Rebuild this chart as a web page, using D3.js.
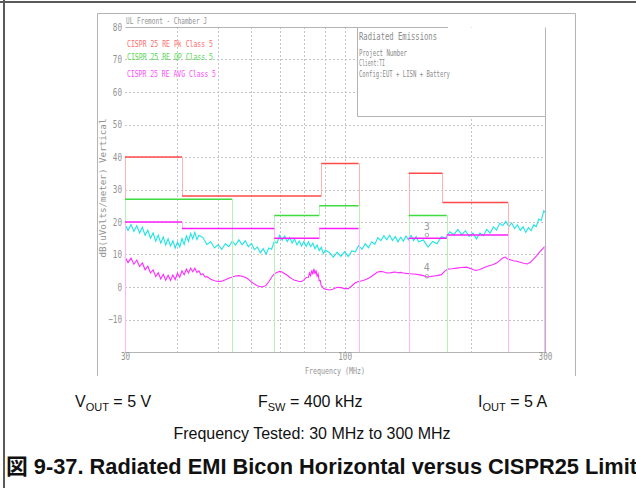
<!DOCTYPE html>
<html>
<head>
<meta charset="utf-8">
<script src="https://cdn.jsdelivr.net/npm/d3@7"></script>
<style>
  html, body { margin: 0; padding: 0; background: #fff; }
  svg { display: block; }
</style>
</head>
<body>
<svg id="chart" width="636" height="488"></svg>
<script>
// CISPR 25 Class 5 limit bands: [start MHz, end MHz, level dB(uV/m)]
const peakLimit = [[30, 41, 40], [41, 88, 28], [88, 108, 38], [142, 171, 35], [171, 245, 26]];
const qpLimit   = [[30, 54, 27], [68, 87, 22], [87, 108, 25], [142, 175, 22]];
const avgLimit  = [[30, 41, 20], [41, 68, 18], [68, 87, 15], [87, 108, 18], [142, 175, 15], [175, 245, 16]];

// Peak detector sweep: [MHz, dB(uV/m)]
const peakScan = [
  [30,19.3],[30.5,17.4],[31,19.2],[31.5,17.1],[32,18.9],[32.5,16.6],[33,18.4],[33.5,15.9],[34,17.5],[34.5,15.0],
  [35,16.6],[35.5,14.1],[36,16.0],[36.5,13.5],[37,15.4],[37.5,12.9],[38,14.8],[38.5,12.6],[39,14.2],[39.5,12.0],
  [40,13.8],[40.5,12.3],[41,14.9],[41.5,13.1],[42,15.7],[42.5,14.0],[43,16.5],[43.5,14.8],[44,16.8],[44.5,14.6],[45,15.9],
  [46,15.2],[47,13.1],[48,13.9],[49,12.0],[50,13.0],[51,11.6],[52,13.3],[53,12.4],[54,14.1],[55,12.9],
  [56,14.5],[57,13.0],[58,14.2],[59,12.4],[60,13.4],[61,11.5],[62,12.3],[63,10.5],[64,11.8],[65,10.1],
  [66,12.0],[67,11.6],[68,14.0],[69,13.5],[70,15.9],[71,14.4],[72,15.7],[73,14.0],[74,15.2],[75,13.5],
  [76,14.8],[77,13.0],[78,14.1],[79,12.6],[80,14.0],[81,12.5],[82,13.9],[83,12.4],[84,13.5],[85,11.8],
  [86,12.9],[87,11.2],[88,12.2],[89,10.3],[90,11.3],
  [92,10.6],[94,9.2],[96,10.7],[98,9.4],[100,10.9],[102,9.4],[104,11.1],[106,10.8],[108,12.7],[110,11.6],
  [112,13.3],[114,12.1],[116,13.9],[118,13.1],[120,15.2],[122,14.3],[124,15.8],[126,14.5],[128,15.9],[130,14.3],
  [132,15.5],[134,13.9],[136,15.3],[138,14.1],[140,15.7],[142,14.5],[144,15.9],[146,14.3],[148,15.5],[150,13.9],
  [154,14.5],[158,12.3],[162,14.0],[166,13.3],[170,15.5],[174,15.0],[178,17.0],[182,16.1],[186,17.7],[190,16.1],
  [194,17.3],[198,15.6],[202,16.6],[206,14.8],[210,16.6],[214,15.8],[218,17.7],[222,16.6],[226,18.5],[230,17.5],
  [234,19.6],[238,18.9],[242,20.2],[246,18.6],[250,19.7],[254,18.0],[258,19.1],[262,17.4],[266,18.5],[270,16.8],
  [274,18.3],[278,17.3],[282,19.1],[286,18.6],[290,20.9],[294,20.5],[298,23.4],[300,23.0]
];

// Average detector sweep: [MHz, dB(uV/m)]
const avgScan = [
  [30,9.2],[30.5,7.5],[31,8.9],[31.5,7.0],[32,8.3],[32.5,6.3],[33,7.4],[33.5,5.3],[34,6.4],[34.5,4.3],
  [35,5.3],[35.5,3.2],[36,4.4],[36.5,2.5],[37,3.9],[37.5,2.1],[38,3.6],[38.5,2.0],[39,3.7],[39.5,2.3],
  [40,4.2],[40.5,3.0],[41,5.0],[41.5,3.8],[42,5.5],[42.5,4.3],[43,5.8],[43.5,4.7],[44,5.8],[44.5,4.5],
  [45,5.0],[45.5,3.8],[46,4.1],[46.5,3.1],[47,3.2],
  [48,2.4],[49,1.9],[50,1.7],[51,1.8],[52,2.2],[53,2.7],[54,3.1],[55,3.4],[56,3.5],[57,3.3],
  [58,3.0],[59,2.4],[60,1.5],[61,0.9],[62,0.4],[63,0.1],[64,0.1],[65,0.5],[66,1.6],[67,3.0],
  [68,4.0],[69,4.5],[70,4.8],[71,4.6],[72,4.1],[73,3.6],[74,3.0],[75,2.5],[76,2.1],[77,1.9],
  [78,1.7],[79,1.7],[80,2.2],[81,2.9],
  [82,3.0],[82.5,4.3],[83,3.5],[83.5,5.1],[84,3.9],[84.5,5.6],[85,4.0],[85.5,5.1],[86,3.3],[86.5,4.0],
  [87,1.9],[87.5,2.0],[88,0.3],[88.5,0.2],[89,-0.4],
  [90,-0.7],[92,-0.9],[94,-0.6],[96,-0.1],[98,-0.2],[100,-0.5],[102,-0.5],[104,0.3],[106,1.3],[108,1.7],
  [110,1.9],[112,2.2],[114,2.7],[116,3.3],[118,4.0],[120,4.6],[122,4.8],[124,4.6],[126,4.3],[128,4.3],
  [130,4.5],[132,4.6],[134,4.4],[136,4.5],[138,4.3],[140,4.2],[143,4.1],[146,4.0],[150,3.8],[154,3.5],
  [157,3.1],[160,3.2],[163,3.4],[166,3.5],[170,3.8],[173,4.8],[176,5.5],[180,5.6],[185,5.8],[190,6.0],
  [195,6.1],[200,5.6],[205,5.1],[210,5.4],[215,6.0],[218,6.3],[222,6.6],[226,6.9],[230,7.4],[234,8.1],
  [238,8.9],[241,9.2],[244,8.7],[248,8.4],[252,8.1],[257,7.9],[262,7.6],[267,7.3],[272,7.1],[277,7.6],
  [281,8.4],[286,9.5],[291,10.7],[296,11.7],[300,12.5]
];

// Marker readouts: [label, MHz, dB]
const markers = [["3", 157, 16.0], ["4", 157, 3.3]];

const yTicks = [80, 70, 60, 50, 40, 30, 20, 10, 0, -10];
const yGridLevels = [70, 60, 50, 40, 30, 20, 10, 0, -10];
const xTicks = [30, 100, 300];
const xGridFreqs = [40, 50, 60, 70, 80, 90, 100, 200];

const legendLabels = ["CISPR 25 RE Pk Class 5", "CISPR 25 RE QP Class 5", "CISPR 25 RE AVG Class 5"];
const infoTitle = "Radiated Emissions";
const infoLines = ["Project Number", "Client:TI", "Config:EUT + LISN + Battery"];

const svg = d3.select("#chart");
const chartFont = "'DejaVu Sans Mono', monospace";
const textGray = "#939393";
const frameGray = "#b4b4b4";

const x = d3.scaleLog().domain([30, 300]).range([125, 545]);
const y = d3.scaleLinear().domain([-20, 80]).range([352, 27]);
const yBottom = y.domain()[0];

const colors = {
  pk:  { strong: "#ff4a4a", light: "#ffb4b4", text: "#ff6b6b" },
  qp:  { strong: "#3fdc3f", light: "#b6f2b6", text: "#52d852" },
  avg: { strong: "#ff1cff", light: "#ffb8ff", text: "#ff4cff" }
};

// page border
svg.append("line").attr("x1", 0).attr("x2", 636).attr("y1", 2).attr("y2", 2)
  .attr("stroke", "#5a5a5a").attr("stroke-width", 2);
svg.append("line").attr("x1", 4).attr("x2", 4).attr("y1", 0).attr("y2", 488)
  .attr("stroke", "#5a5a5a").attr("stroke-width", 2);

// dashed grid
const grid = svg.append("g").attr("stroke", "#c4c4c4").attr("stroke-width", 1)
  .attr("stroke-dasharray", "2,2");
grid.selectAll("line.h").data(yGridLevels).join("line").attr("class", "h")
  .attr("x1", x.range()[0]).attr("x2", x.range()[1])
  .attr("y1", d => Math.round(y(d)) + 0.5).attr("y2", d => Math.round(y(d)) + 0.5);
grid.selectAll("line.v").data(xGridFreqs).join("line").attr("class", "v")
  .attr("x1", d => Math.round(x(d)) + 0.5).attr("x2", d => Math.round(x(d)) + 0.5)
  .attr("y1", y(80)).attr("y2", y(yBottom));

// measured traces
const trace = d3.line().x(d => x(d[0])).y(d => y(d[1]));
svg.append("path").datum(peakScan).attr("d", trace)
  .attr("fill", "none").attr("stroke", "#1fe4e4").attr("stroke-width", 1.1);
svg.append("path").datum(avgScan).attr("d", trace)
  .attr("fill", "none").attr("stroke", "#ff2cff").attr("stroke-width", 1.1);
// end of the average sweep dropping to the axis
const lastAvg = avgScan[avgScan.length - 1];
svg.append("line")
  .attr("x1", Math.round(x(lastAvg[0])) - 0.5).attr("x2", Math.round(x(lastAvg[0])) - 0.5)
  .attr("y1", y(lastAvg[1])).attr("y2", y(yBottom))
  .attr("stroke", colors.avg.light).attr("stroke-width", 1);

// limit lines: thin light risers, heavier level segments
function drawLimit(bands, c) {
  const g = svg.append("g");
  const risers = [];
  bands.forEach((b, i) => {
    const prev = bands[i - 1], next = bands[i + 1];
    const joinPrev = prev && prev[1] === b[0];
    const joinNext = next && next[0] === b[1];
    risers.push([b[0], joinPrev ? prev[2] : yBottom, b[2]]);
    if (!joinNext) risers.push([b[1], b[2], yBottom]);
  });
  g.selectAll("line.riser").data(risers).join("line").attr("class", "riser")
    .attr("x1", d => Math.round(x(d[0])) + 0.5).attr("x2", d => Math.round(x(d[0])) + 0.5)
    .attr("y1", d => y(d[1])).attr("y2", d => y(d[2]))
    .attr("stroke", c.light).attr("stroke-width", 1);
  g.selectAll("line.level").data(bands).join("line").attr("class", "level")
    .attr("x1", d => x(d[0])).attr("x2", d => x(d[1]))
    .attr("y1", d => y(d[2])).attr("y2", d => y(d[2]))
    .attr("stroke", c.strong).attr("stroke-width", 1.7);
}
drawLimit(peakLimit, colors.pk);
drawLimit(qpLimit, colors.qp);
drawLimit(avgLimit, colors.avg);

// marker readouts
const mk = svg.append("g");
markers.forEach(m => {
  const mx = x(m[1]), my = y(m[2]);
  mk.append("circle").attr("cx", mx).attr("cy", my).attr("r", 1.8)
    .attr("fill", "none").attr("stroke", "#9a9a9a").attr("stroke-width", 0.8);
  mk.append("text").attr("x", mx).attr("y", my - 5).attr("text-anchor", "middle")
    .attr("font-family", chartFont).attr("font-size", 10).attr("fill", "#9a9a9a")
    .text(m[0]);
});

// info box (covers the grid)
svg.append("rect").attr("x", 357.5).attr("y", 27.5).attr("width", 545 - 357.5).attr("height", 116 - 27.5)
  .attr("fill", "#fff");
svg.append("polyline")
  .attr("points", "357.5,27.5 357.5,116.5 545.5,116.5")
  .attr("fill", "none").attr("stroke", frameGray).attr("stroke-width", 1);

// plot border
const pb = svg.append("g").attr("stroke", frameGray).attr("stroke-width", 1).attr("fill", "none");
pb.append("line").attr("x1", 125.5).attr("x2", 448).attr("y1", 27.5).attr("y2", 27.5);
pb.append("line").attr("x1", 545.5).attr("x2", 545.5).attr("y1", 27.5).attr("y2", 352.5);
pb.append("line").attr("x1", 125).attr("x2", 546).attr("y1", 352.5).attr("y2", 352.5);

// outer chart frame
svg.append("polyline").attr("points", "97.5,376 97.5,13.5 575.5,13.5 575.5,376")
  .attr("fill", "none").attr("stroke", frameGray).attr("stroke-width", 1);

// axes
const yAxis = svg.append("g").attr("transform", "translate(125,0)")
  .call(d3.axisLeft(y).tickValues(yTicks).tickSize(0).tickPadding(3));
yAxis.select(".domain").remove();
yAxis.selectAll("text").attr("font-family", chartFont).attr("font-size", 10)
  .attr("fill", textGray)
  .attr("textLength", d => String(d).length * 4.6).attr("lengthAdjust", "spacingAndGlyphs");

const xAxis = svg.append("g").attr("transform", "translate(0,352)")
  .call(d3.axisBottom(x).tickValues(xTicks).tickFormat(d3.format("d")).tickSize(0).tickPadding(1));
xAxis.select(".domain").remove();
xAxis.selectAll("text").attr("font-family", chartFont).attr("font-size", 10)
  .attr("fill", textGray)
  .attr("textLength", d => String(d).length * 4.6).attr("lengthAdjust", "spacingAndGlyphs");

function smallText(str, tx, ty, len, color, size, anchor) {
  return svg.append("text").attr("x", tx).attr("y", ty)
    .attr("font-family", chartFont).attr("font-size", size || 9.5)
    .attr("fill", color || textGray).attr("text-anchor", anchor || "start")
    .attr("textLength", len).attr("lengthAdjust", "spacingAndGlyphs")
    .text(str);
}

smallText("Frequency (MHz)", 335, 374, 60, textGray, 9.5, "middle");
svg.append("text").attr("transform", "translate(106,188) rotate(-90)")
  .attr("text-anchor", "middle").attr("font-family", chartFont).attr("font-size", 9.5)
  .attr("fill", textGray).attr("textLength", 139).attr("lengthAdjust", "spacingAndGlyphs")
  .text("dB(uVolts/meter) Vertical");

smallText("UL Fremont - Chamber J", 126, 24, 81);

const legendColors = [colors.pk.text, colors.qp.text, colors.avg.text];
const legendY = [46.5, 60, 76.5];
const legendW = [86, 86, 89];
legendLabels.forEach((t, i) => smallText(t, 127, legendY[i], legendW[i], legendColors[i]));

smallText(infoTitle, 359, 40, 78, "#8a8a8a", 10.5);
const infoY = [56, 66, 77];
const infoW = [48, 26, 91];
infoLines.forEach((t, i) => smallText(t, 359, infoY[i], infoW[i], "#8a8a8a", 9));

// operating conditions and caption
const capFont = "'Liberation Sans', Arial, 'Noto Sans CJK JP', sans-serif";
function param(tx, main, sub, rest) {
  const t = svg.append("text").attr("x", tx).attr("y", 407)
    .attr("font-family", capFont).attr("font-size", 16).attr("fill", "#111");
  t.append("tspan").text(main);
  t.append("tspan").attr("font-size", 11).attr("dy", 4).text(sub);
  t.append("tspan").attr("dy", -4).text(rest);
}
param(75, "V", "OUT", " = 5 V");
param(258, "F", "SW", " = 400 kHz");
param(478, "I", "OUT", " = 5 A");

svg.append("text").attr("x", 312).attr("y", 439).attr("text-anchor", "middle")
  .attr("font-family", capFont).attr("font-size", 16).attr("fill", "#111")
  .text("Frequency Tested: 30 MHz to 300 MHz");

svg.append("text").attr("x", 6).attr("y", 474)
  .attr("font-family", capFont).attr("font-size", 21.8).attr("font-weight", "bold").attr("fill", "#111")
  .text("図 9-37. Radiated EMI Bicon Horizontal versus CISPR25 Limits");
</script>
</body>
</html>
